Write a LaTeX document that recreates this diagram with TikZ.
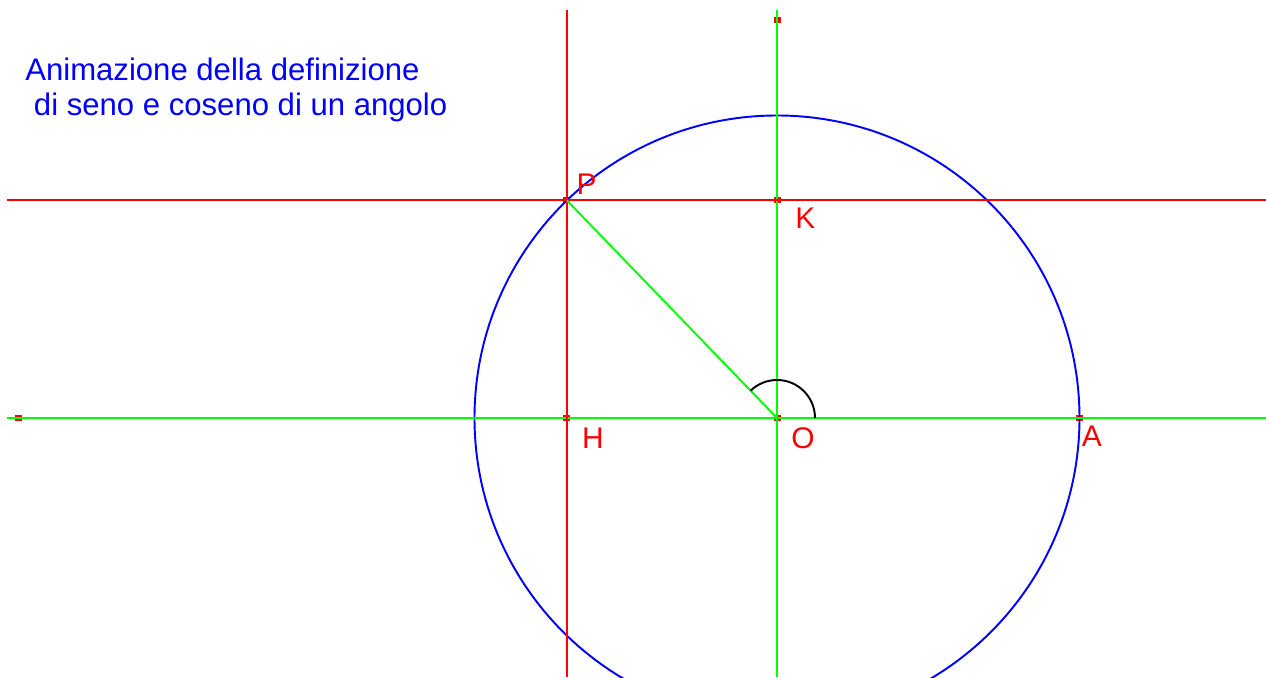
\documentclass[tikz,border=0pt]{standalone}
\usepackage{fontspec}
\setsansfont{Liberation Sans}
\usetikzlibrary{positioning}
\tikzset{
  asse/.style={green, line width=1.1pt},
  proiez/.style={red, line width=1.1pt},
  punto/.style={rectangle, fill=red, minimum width=0.14cm, minimum height=0.12cm, inner sep=0pt},
  etichetta/.style={text=red, font=\sffamily\fontsize{17}{20}\selectfont, inner sep=0pt},
  titolo/.style={text=blue, font=\sffamily\fontsize{17.7}{19.5}\selectfont, align=left, inner sep=0pt}
}

\begin{document}
\begin{tikzpicture}
    \useasboundingbox (-15.54,-5.18) rectangle (9.78,8.36);

    % Punti della costruzione
    \coordinate (O) at (0,0);
    \coordinate (A) at (6.05,0);
    \coordinate (P) at (134:6.05);
    \coordinate (H) at (P |- O);
    \coordinate (K) at (O |- P);

    % Estremi delle rette
    \coordinate (Xsx) at (-15.4,0);
    \coordinate (Xdx) at (9.78,0);
    \coordinate (Yalto) at (0,8.16);
    \coordinate (Ybasso) at (0,-5.18);

    % Titolo
    \node[titolo, anchor=north west] (tit) at (-15.04,7.2) {Animazione della definizione\\\ di seno e coseno di un angolo};

    % Punti (quadratini rossi)
    \foreach \p in {O,A,P,H,K} {
        \node[punto] at (\p) {};
    }
    \node[punto] (Mx) at (-15.16,0) {};
    \node[punto] (My) at (0,7.96) {};

    % Circonferenza goniometrica
    \draw[blue, line width=1.1pt] (O) circle (6.05);

    % Assi cartesiani
    \draw[asse] (Xsx) -- (Xdx);
    \draw[asse] (Yalto) -- (Ybasso);

    % Rette per P
    \draw[proiez] (P |- Yalto) -- (P |- Ybasso);
    \draw[proiez] (Xsx |- P) -- (Xdx |- P);

    % Raggio OP e angolo
    \draw[asse] (O) -- (P);
    \draw[line width=1.1pt] (O) ++(0:0.76) arc[start angle=0, end angle=134, radius=0.76];

    % Etichette
    \node[etichetta, above right=0.12cm and 0.19cm of P] (lP) {P};
    \node[etichetta, below right=0.14cm and 0.36cm of K] (lK) {K};
    \node[etichetta, below right=0.2cm and 0.3cm of H] (lH) {H};
    \node[etichetta, below right=0.18cm and 0.28cm of O] (lO) {O};
    \node[etichetta, below right=0.16cm and 0.04cm of A] (lA) {A};

\end{tikzpicture}
\end{document}
